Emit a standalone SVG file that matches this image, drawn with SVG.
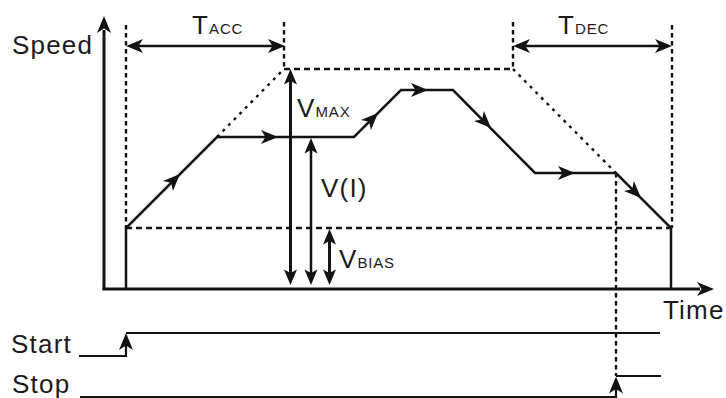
<svg xmlns="http://www.w3.org/2000/svg" width="726" height="398" viewBox="0 0 726 398">
<style>
  .ln{fill:none;stroke:#141213;stroke-width:2.5;stroke-linejoin:miter;stroke-linecap:butt}
  .ax{fill:none;stroke:#141213;stroke-width:3}
  .sig{fill:none;stroke:#141213;stroke-width:2.2}
  .dash{fill:none;stroke:#141213;stroke-width:2.6;stroke-dasharray:6 4}
  .vdash{fill:none;stroke:#141213;stroke-width:2.4;stroke-dasharray:4.5 3.5}
  .dot{fill:none;stroke:#141213;stroke-width:2.4;stroke-dasharray:3 5}
  .ah{fill:#141213}
  text{font-family:"Liberation Sans",Arial,sans-serif;fill:#1c1a1b;letter-spacing:1.2px}
  .big{font-size:26px}
  .sm{font-size:15px;letter-spacing:0.8px}
</style>
<defs>
  <path id="ah" class="ah" d="M0,0 L-17,-7 L-12.5,0 L-17,7 Z"/>
  <path id="ahs" class="ah" d="M0,0 L-15.5,-6.5 L-12,0 L-15.5,6.5 Z"/>
</defs>

<g id="guides">
  <line class="vdash" x1="126" y1="25" x2="126" y2="228"/>
  <line class="vdash" x1="284" y1="22" x2="284" y2="69"/>
  <line class="dash" x1="284" y1="69" x2="513" y2="69"/>
  <line class="vdash" x1="513" y1="22" x2="513" y2="69"/>
  <line class="vdash" x1="672" y1="25" x2="672" y2="228"/>
  <line class="dash" x1="126" y1="228" x2="671" y2="228"/>
  <line class="vdash" x1="616" y1="173" x2="616" y2="376"/>
  <line class="dot" x1="217" y1="137" x2="284" y2="69"/>
  <line class="dot" x1="513" y1="69" x2="616" y2="173"/>
</g>

<g id="axes">
  <line class="ax" x1="104" y1="290" x2="104" y2="30"/>
  <use href="#ah" transform="translate(104,16) rotate(-90)"/>
  <line class="ax" x1="102.5" y1="289" x2="700" y2="289"/>
  <use href="#ah" transform="translate(714,289)"/>
  <text id="speed" class="big" x="12" y="54">Speed</text>
  <text id="time" class="big" x="663" y="319">Time</text>
</g>

<g id="profile">
  <polyline class="ln" points="126,289 126,228 217,137 354,137 401,90 453,90 535,173 616,173 671,228 671,289"/>
  <use href="#ah" transform="translate(180,174) rotate(-45)"/>
  <use href="#ah" transform="translate(278,137)"/>
  <use href="#ah" transform="translate(378,113) rotate(-45)"/>
  <use href="#ah" transform="translate(428,90)"/>
  <use href="#ah" transform="translate(491,128) rotate(45)"/>
  <use href="#ah" transform="translate(575,173)"/>
  <use href="#ah" transform="translate(641,198) rotate(45)"/>
</g>

<g id="tacc">
  <line class="ln" x1="134" y1="46" x2="277" y2="46"/>
  <use href="#ah" transform="translate(126,46) rotate(180)"/>
  <use href="#ah" transform="translate(285,46)"/>
  <text x="192" y="34"><tspan class="big">T</tspan><tspan class="sm">ACC</tspan></text>
</g>

<g id="tdec">
  <line class="ln" x1="521" y1="46" x2="664" y2="46"/>
  <use href="#ah" transform="translate(513,46) rotate(180)"/>
  <use href="#ah" transform="translate(672,46)"/>
  <text x="558" y="34"><tspan class="big">T</tspan><tspan class="sm">DEC</tspan></text>
</g>

<g id="vmax">
  <line class="ax" x1="290.5" y1="80" x2="290.5" y2="274"/>
  <use href="#ahs" transform="translate(290.5,69) rotate(-90)"/>
  <use href="#ahs" transform="translate(290.5,285) rotate(90)"/>
  <text x="297" y="117"><tspan class="big">V</tspan><tspan class="sm">MAX</tspan></text>
</g>

<g id="vi">
  <line class="ln" x1="311" y1="149" x2="311" y2="274"/>
  <use href="#ahs" transform="translate(311,138) rotate(-90)"/>
  <use href="#ahs" transform="translate(311,285) rotate(90)"/>
  <text class="big" x="321" y="197">V(I)</text>
</g>

<g id="vbias">
  <line class="ax" x1="329.5" y1="240" x2="329.5" y2="274"/>
  <use href="#ahs" transform="translate(329.5,229) rotate(-90)"/>
  <use href="#ahs" transform="translate(329.5,285) rotate(90)"/>
  <text x="339" y="268"><tspan class="big">V</tspan><tspan class="sm">BIAS</tspan></text>
</g>

<g id="start">
  <polyline class="sig" points="79,356 126,356 126,340"/>
  <use href="#ah" transform="translate(126,333) rotate(-90)"/>
  <line class="sig" x1="126" y1="333" x2="660" y2="333"/>
  <text class="big" x="11" y="353">Start</text>
</g>

<g id="stop">
  <polyline class="sig" points="80,397 616,397 616,384"/>
  <use href="#ah" transform="translate(616,376.5) rotate(-90)"/>
  <line class="sig" x1="616" y1="376" x2="661" y2="376"/>
  <text class="big" x="12" y="393">Stop</text>
</g>
</svg>
